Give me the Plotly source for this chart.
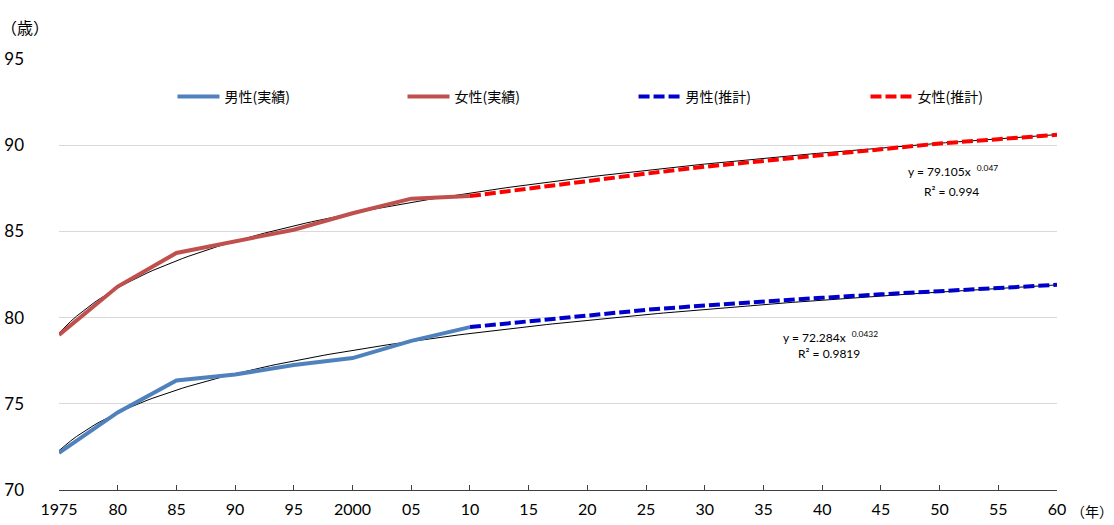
import plotly.graph_objects as go

# ---- data ----
years_actual = [1975, 1980, 1985, 1990, 1995, 2000, 2005, 2010]
male_actual = [72.15, 74.5, 76.35, 76.7, 77.25, 77.65, 78.65, 79.45]
female_actual = [79.0, 81.8, 83.75, 84.45, 85.1, 86.05, 86.9, 87.05]

years_proj = [2010, 2015, 2020, 2025, 2030, 2035, 2040, 2045, 2050, 2055, 2060]
male_proj = [79.45, 79.8, 80.15, 80.45, 80.7, 80.95, 81.15, 81.35, 81.55, 81.75, 81.9]
female_proj = [87.05, 87.5, 87.95, 88.35, 88.75, 89.1, 89.45, 89.8, 90.1, 90.35, 90.6]

# power trendlines shown on the chart: y = a * x^b, x = 1 at 1975, step 5 years
male_trend_a, male_trend_b = 72.284, 0.0432
female_trend_a, female_trend_b = 79.105, 0.047

tick_years = list(range(1975, 2061, 5))
tick_labels = ["1975", "80", "85", "90", "95", "2000", "05", "10", "15", "20",
               "25", "30", "35", "40", "45", "50", "55", "60"]

FONT = "Lato, 'Noto Sans CJK JP', sans-serif"
JFONT = "'Noto Sans CJK JP', sans-serif"

trend_years = [1975 + i * 0.5 for i in range(171)]
def trend(a, b):
    return [a * (1 + (yr - 1975) / 5) ** b for yr in trend_years]

fig = go.Figure()
fig.add_trace(go.Scatter(x=trend_years, y=trend(male_trend_a, male_trend_b), mode="lines",
                         line=dict(color="black", width=1), showlegend=False, hoverinfo="skip"))
fig.add_trace(go.Scatter(x=trend_years, y=trend(female_trend_a, female_trend_b), mode="lines",
                         line=dict(color="black", width=1), showlegend=False, hoverinfo="skip"))
fig.add_trace(go.Scatter(x=years_actual, y=male_actual, mode="lines", name="男性(実績)",
                         line=dict(color="#4f81bd", width=4), legend="legend"))
fig.add_trace(go.Scatter(x=years_actual, y=female_actual, mode="lines", name="女性(実績)",
                         line=dict(color="#c0504d", width=4), legend="legend2"))
fig.add_trace(go.Scatter(x=years_proj, y=male_proj, mode="lines", name="男性(推計)",
                         line=dict(color="#0000cc", width=4, dash="11px,4px"), legend="legend3"))
fig.add_trace(go.Scatter(x=years_proj, y=female_proj, mode="lines", name="女性(推計)",
                         line=dict(color="#ff0000", width=4, dash="11px,4px"), legend="legend4"))

def leg(xpos):
    return dict(orientation="h", x=xpos, y=0.912, xanchor="left", yanchor="middle",
                font=dict(family=JFONT, size=14, color="black"), bgcolor="rgba(0,0,0,0)",
                itemwidth=42)

fig.update_layout(
    width=1114, height=525,
    margin=dict(l=59, r=57, t=59, b=35, autoexpand=False),
    paper_bgcolor="white", plot_bgcolor="white",
    font=dict(family=FONT, size=16, color="black"),
    legend=leg(0.1137), legend2=leg(0.3442), legend3=leg(0.5757), legend4=leg(0.8081),
    xaxis=dict(range=[1975, 2060], tickmode="array", tickvals=tick_years, ticktext=tick_labels,
               showgrid=False, showline=True, linecolor="#404040", linewidth=1,
               ticks="inside", ticklen=5, tickcolor="#404040", zeroline=False,
               automargin=False, ticklabelstandoff=5, tickfont=dict(size=16)),
    yaxis=dict(range=[70, 95], tickvals=[70, 75, 80, 85, 90, 95], showgrid=True,
               gridcolor="#d9d9d9", gridwidth=1, zeroline=False, showline=False,
               automargin=False, ticks="", ticklabelstandoff=34, tickfont=dict(size=17)),
    annotations=[
        dict(text="（歳）", xref="paper", yref="paper", x=(25 - 59) / 998, y=(490 - 27) / 431,
             xanchor="center", yanchor="middle", showarrow=False,
             font=dict(family=JFONT, size=16)),
        dict(text="（年）", xref="paper", yref="paper", x=(1092 - 59) / 998, y=(490 - 511) / 431,
             xanchor="center", yanchor="middle", showarrow=False,
             font=dict(family=JFONT, size=14)),
        dict(text="y = 79.105x  <sup>0.047</sup>", xref="x", yref="y", x=2051.1, y=88.5,
             showarrow=False, font=dict(family=FONT, size=12)),
        dict(text="R² = 0.994", xref="x", yref="y", x=2051.0, y=87.3,
             showarrow=False, font=dict(family=FONT, size=12)),
        dict(text="y = 72.284x  <sup>0.0432</sup>", xref="x", yref="y", x=2040.7, y=78.85,
             showarrow=False, font=dict(family=FONT, size=12)),
        dict(text="R² = 0.9819", xref="x", yref="y", x=2040.6, y=77.9,
             showarrow=False, font=dict(family=FONT, size=12)),
    ],
)

fig.write_html("out.html", config={"displayModeBar": False},
               post_script="document.body.style.margin='0';")
